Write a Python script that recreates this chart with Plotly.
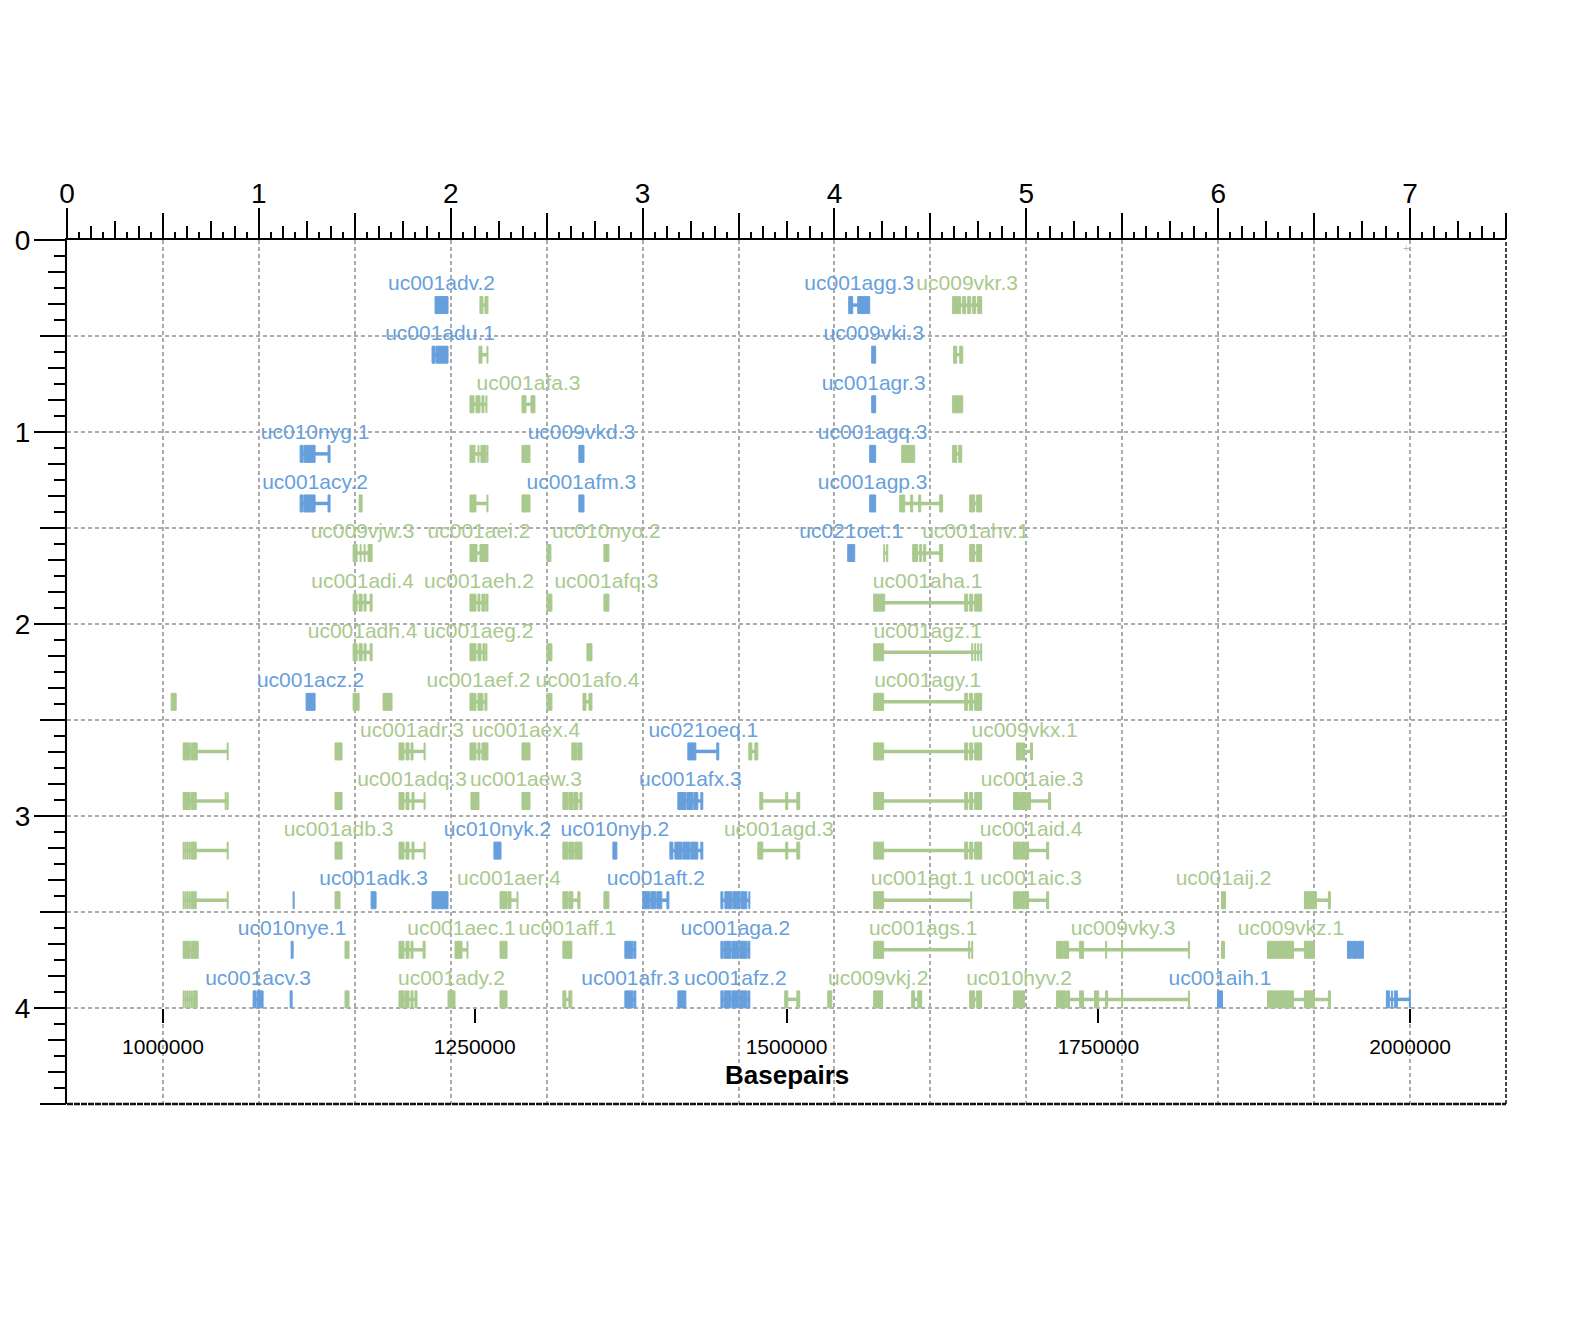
import plotly.graph_objects as go

# ---------------- data ----------------
transcript_ids = [
    # row 0
    "uc001adv.2", "", "uc001agg.3", "uc009vkr.3",
    # row 1
    "uc001adu.1", "", "uc009vki.3", "",
    # row 2
    "", "uc001afa.3", "uc001agr.3", "",
    # row 3
    "uc010nyg.1", "", "", "uc009vkd.3", "uc001agq.3", "", "",
    # row 4
    "uc001acy.2", "", "", "", "uc001afm.3", "uc001agp.3", "", "",
    # row 5
    "uc009vjw.3", "uc001aei.2", "", "uc010nyo.2", "uc021oet.1", "", "", "uc001ahv.1",
    # row 6
    "uc001adi.4", "uc001aeh.2", "", "uc001afq.3", "uc001aha.1",
    # row 7
    "uc001adh.4", "uc001aeg.2", "", "", "uc001agz.1",
    # row 8
    "", "uc001acz.2", "", "", "uc001aef.2", "", "uc001afo.4", "uc001agy.1",
    # row 9
    "", "", "uc001adr.3", "", "uc001aex.4", "", "uc021oeq.1", "", "", "uc009vkx.1",
    # row 10
    "", "", "uc001adq.3", "", "uc001aew.3", "", "uc001afx.3", "", "", "uc001aie.3",
    # row 11
    "", "uc001adb.3", "", "uc010nyk.2", "", "uc010nyp.2", "", "uc001agd.3", "", "uc001aid.4",
    # row 12
    "", "", "", "uc001adk.3", "", "uc001aer.4", "", "", "uc001aft.2", "", "uc001agt.1",
    "uc001aic.3", "uc001aij.2", "",
    # row 13
    "", "uc010nye.1", "", "", "uc001aec.1", "", "uc001aff.1", "", "uc001aga.2", "uc001ags.1",
    "uc009vky.3", "", "uc009vkz.1", "",
    # row 14
    "", "uc001acv.3", "", "", "", "uc001ady.2", "", "", "uc001afr.3", "", "uc001afz.2", "", "",
    "uc009vkj.2", "", "", "uc010hyv.2", "", "uc001aih.1", "", "",
]

transcript_rows = (
    [0] * 4 + [1] * 4 + [2] * 4 + [3] * 7 + [4] * 8 + [5] * 8 + [6] * 5 + [7] * 5 +
    [8] * 8 + [9] * 10 + [10] * 10 + [11] * 10 + [12] * 14 + [13] * 14 + [14] * 21
)

transcript_group = (
    list("bgbg") + list("bgbg") + list("ggbg") + list("bggbbgg") + list("bgggbbgg") +
    list("ggggbggg") + list("ggggg") + list("ggggg") + list("gbgggggg") +
    list("ggggggbggg") + list("ggggggbggg") + list("gggbgbbggg") +
    list("gbgbbgggbbgggg") + list("gbgggggbbggggb") + list("gbbgggggbbbgggggggbgb")
)

# exon coordinates in kilobases
transcript_exons_kb = [
    # row 0
    [[1218.2, 1228.6]],
    [[1254.2, 1256.6], [1258.2, 1260.6]],
    [[1549.9, 1553.1], [1557.1, 1566.7]],
    [[1633.2, 1639.7], [1641.3, 1643.7], [1645.3, 1647.7], [1649.3, 1651.7], [1653.3, 1656.5]],
    # row 1
    [[1215.8, 1218.2], [1219.0, 1228.6]],
    [[1253.4, 1255.8], [1259.8, 1260.6]],
    [[1568.3, 1571.5]],
    [[1634.0, 1636.5], [1638.9, 1641.3]],
    # row 2
    [[1246.2, 1249.4], [1251.0, 1254.2], [1255.8, 1257.4], [1259.0, 1259.8]],
    [[1287.9, 1291.1], [1295.1, 1298.3]],
    [[1568.3, 1571.5]],
    [[1633.2, 1641.3]],
    # row 3
    [[1110.0, 1112.4], [1113.2, 1122.0], [1132.4, 1134.0]],
    [[1246.2, 1250.2], [1252.6, 1253.4], [1255.0, 1259.0], [1259.8, 1260.6]],
    [[1287.9, 1294.3]],
    [[1333.5, 1337.6]],
    [[1566.7, 1571.5]],
    [[1592.4, 1602.8]],
    [[1633.2, 1636.5], [1638.1, 1640.5]],
    # row 4
    [[1110.0, 1112.4], [1113.2, 1122.0], [1132.4, 1134.0]],
    [[1157.3, 1159.7]],
    [[1246.2, 1251.0], [1259.8, 1260.6]],
    [[1287.9, 1294.3]],
    [[1333.5, 1337.6]],
    [[1566.7, 1571.5]],
    [[1590.8, 1594.8], [1599.6, 1601.2], [1606.0, 1607.6], [1622.8, 1625.2]],
    [[1646.9, 1650.9], [1652.5, 1656.5]],
    # row 5
    [[1152.5, 1155.7], [1158.1, 1158.9], [1161.3, 1162.1], [1164.5, 1167.7]],
    [[1246.2, 1251.8], [1254.2, 1260.6]],
    [[1307.9, 1311.1]],
    [[1353.6, 1357.6]],
    [[1549.1, 1554.7]],
    [[1578.0, 1578.7], [1580.3, 1581.2]],
    [[1601.2, 1605.2], [1606.8, 1608.4], [1610.0, 1611.6], [1622.8, 1625.2]],
    [[1646.9, 1650.9], [1652.5, 1656.5]],
    # row 6
    [[1152.5, 1155.7], [1157.3, 1159.7], [1161.3, 1162.9], [1166.1, 1167.7]],
    [[1246.2, 1251.0], [1252.6, 1254.2], [1255.8, 1258.2], [1259.0, 1260.6]],
    [[1307.9, 1311.9]],
    [[1353.6, 1357.6]],
    [[1569.9, 1578.7], [1642.9, 1645.3], [1646.9, 1649.3], [1650.9, 1656.5]],
    # row 7
    [[1152.5, 1155.7], [1157.3, 1159.7], [1161.3, 1162.9], [1166.1, 1167.7]],
    [[1246.2, 1251.0], [1252.6, 1255.0], [1256.6, 1258.2], [1259.0, 1259.8]],
    [[1307.9, 1311.9]],
    [[1340.0, 1344.0]],
    [[1569.9, 1577.9], [1648.5, 1649.3], [1650.9, 1651.7], [1653.3, 1654.1], [1655.7, 1656.5]],
    # row 8
    [[1006.6, 1010.6]],
    [[1114.8, 1122.0]],
    [[1152.5, 1157.3]],
    [[1176.5, 1183.7]],
    [[1246.2, 1251.0], [1252.6, 1256.6], [1258.2, 1259.8]],
    [[1307.9, 1311.9]],
    [[1336.8, 1339.2], [1341.6, 1344.0]],
    [[1569.9, 1577.9], [1642.9, 1645.3], [1646.9, 1649.3], [1650.9, 1656.5]],
    # row 9
    [[1016.2, 1021.8], [1022.6, 1027.5], [1051.5, 1052.3]],
    [[1138.0, 1143.6]],
    [[1189.3, 1193.3], [1194.9, 1197.3], [1198.9, 1200.5], [1209.4, 1210.2]],
    [[1246.2, 1251.0], [1252.6, 1254.2], [1255.8, 1260.6]],
    [[1287.9, 1294.3]],
    [[1327.9, 1331.9], [1332.7, 1336.0]],
    [[1420.9, 1427.3], [1444.1, 1445.7]],
    [[1469.8, 1472.2], [1474.6, 1477.0]],
    [[1569.9, 1577.9], [1642.9, 1645.3], [1646.9, 1649.3], [1650.9, 1656.5]],
    [[1684.5, 1688.5], [1689.3, 1690.9], [1695.7, 1697.3]],
    # row 10
    [[1016.2, 1021.8], [1022.6, 1026.7], [1049.9, 1050.7], [1051.5, 1052.3]],
    [[1138.0, 1143.6]],
    [[1189.3, 1193.3], [1194.9, 1197.3], [1199.7, 1201.3], [1209.4, 1210.2]],
    [[1247.0, 1253.4]],
    [[1287.9, 1294.3]],
    [[1320.7, 1324.7], [1325.5, 1328.7], [1329.5, 1332.7], [1334.4, 1336.0]],
    [[1412.9, 1419.3], [1420.1, 1424.9], [1425.7, 1428.9], [1431.3, 1432.9]],
    [[1478.6, 1481.0], [1499.4, 1501.0], [1508.3, 1510.6]],
    [[1569.9, 1577.9], [1642.9, 1645.3], [1646.9, 1649.3], [1650.9, 1656.5]],
    [[1682.1, 1686.9], [1687.7, 1692.5], [1693.3, 1695.7], [1710.2, 1711.8]],
    # row 11
    [[1016.2, 1017.0], [1017.8, 1018.6], [1019.4, 1020.2], [1021.0, 1021.8], [1022.6, 1026.7], [1051.5, 1052.3]],
    [[1138.0, 1143.6]],
    [[1189.3, 1193.3], [1194.9, 1197.3], [1199.7, 1201.3], [1209.4, 1210.2]],
    [[1265.4, 1271.1]],
    [[1320.7, 1324.7], [1325.5, 1329.5], [1330.3, 1336.0]],
    [[1360.8, 1364.0]],
    [[1406.5, 1408.9], [1410.5, 1416.1], [1416.9, 1422.5], [1423.3, 1428.9], [1431.3, 1432.9]],
    [[1477.0, 1481.0], [1499.4, 1501.0], [1508.3, 1510.6]],
    [[1569.9, 1577.9], [1642.9, 1645.3], [1646.9, 1649.3], [1650.9, 1656.5]],
    [[1682.1, 1687.7], [1688.5, 1690.9], [1691.7, 1694.1], [1708.6, 1710.2]],
    # row 12
    [[1016.2, 1017.0], [1017.8, 1018.6], [1019.4, 1020.2], [1021.0, 1021.8], [1022.6, 1026.7], [1051.5, 1052.3]],
    [[1104.4, 1105.2]],
    [[1138.0, 1142.0]],
    [[1166.9, 1170.9]],
    [[1215.8, 1228.6]],
    [[1270.3, 1275.9], [1276.7, 1279.1], [1283.9, 1284.7]],
    [[1320.7, 1324.7], [1325.5, 1328.7], [1332.7, 1334.4]],
    [[1353.6, 1357.6]],
    [[1384.8, 1390.4], [1391.2, 1395.2], [1396.0, 1400.0], [1404.1, 1405.7]],
    [[1447.4, 1449.0], [1450.6, 1456.2], [1457.0, 1462.6], [1463.4, 1468.2], [1469.8, 1470.6]],
    [[1569.9, 1577.9], [1647.7, 1648.5]],
    [[1682.1, 1687.7], [1688.5, 1690.9], [1691.7, 1694.1], [1708.6, 1710.2]],
    [[1848.8, 1852.0]],
    [[1915.3, 1924.9], [1934.5, 1936.1]],
    # row 13
    [[1016.2, 1021.8], [1022.6, 1028.3]],
    [[1102.8, 1104.4]],
    [[1146.0, 1149.2]],
    [[1189.3, 1193.3], [1194.9, 1197.3], [1198.9, 1200.5], [1208.6, 1210.2]],
    [[1234.2, 1239.8], [1243.8, 1244.6]],
    [[1270.3, 1275.9]],
    [[1320.7, 1327.9]],
    [[1370.4, 1376.8], [1377.6, 1379.2]],
    [[1447.4, 1449.0], [1449.8, 1455.4], [1456.2, 1461.8], [1462.6, 1468.2], [1469.0, 1470.6]],
    [[1569.9, 1577.9], [1646.1, 1646.9], [1648.5, 1649.3]],
    [[1716.6, 1721.4], [1722.2, 1726.2], [1735.0, 1738.2], [1755.9, 1756.7], [1768.7, 1769.5], [1822.3, 1823.1]],
    [[1848.8, 1851.2]],
    [[1885.7, 1892.9], [1893.7, 1906.5], [1915.3, 1923.3]],
    [[1949.8, 1953.0], [1953.8, 1957.8], [1958.6, 1962.6]],
    # row 14
    [[1016.2, 1017.0], [1017.8, 1018.6], [1019.4, 1020.2], [1021.0, 1021.8], [1022.6, 1023.5], [1024.3, 1027.5]],
    [[1072.3, 1074.7], [1075.5, 1080.3]],
    [[1102.0, 1103.6]],
    [[1146.0, 1149.2]],
    [[1189.3, 1193.3], [1194.1, 1197.3], [1198.9, 1200.5], [1202.1, 1203.7]],
    [[1228.6, 1234.2]],
    [[1270.3, 1275.9]],
    [[1320.7, 1323.1], [1325.5, 1327.9]],
    [[1370.4, 1376.8], [1377.6, 1379.2]],
    [[1412.9, 1419.3]],
    [[1447.4, 1449.0], [1449.8, 1455.4], [1456.2, 1461.8], [1462.6, 1468.2], [1469.0, 1470.6]],
    [[1498.6, 1501.0], [1508.3, 1510.6]],
    [[1533.1, 1536.3]],
    [[1569.9, 1577.1]],
    [[1600.4, 1602.8], [1605.2, 1608.4]],
    [[1646.9, 1650.9], [1652.5, 1656.5]],
    [[1682.1, 1690.9]],
    [[1716.6, 1723.8], [1724.6, 1727.0], [1735.0, 1738.2], [1747.0, 1750.3], [1755.9, 1757.5], [1768.7, 1769.5], [1822.3, 1823.1]],
    [[1845.6, 1849.6]],
    [[1885.7, 1892.9], [1893.7, 1906.5], [1915.3, 1923.3], [1934.5, 1936.1]],
    [[1981.0, 1983.4], [1985.0, 1985.8], [1987.4, 1989.8], [1999.4, 2000.2]],
]

bp_ticks = [1000000, 1250000, 1500000, 1750000, 2000000]
bp_range = [923077, 2076923]
top_range = [0, 7.5]
left_range = [4.5, 0]

# ---------------- styling ----------------
FONT = "Liberation Sans, Arial, sans-serif"
BLUE = "#679fdc"
GREEN = "#a9c98e"
GRID = "#ababab"
ROW0, ROWSTEP = 0.339, 0.2583
EXON_H = 0.0886
LABEL_OFF = 0.104

fig = go.Figure()
colors = {"g": GREEN, "b": BLUE}
intr, exons, labels = {}, {}, {}
for grp in ("g", "b"):
    intr[grp] = ([], [])
    exons[grp] = ([], [], [])
    labels[grp] = ([], [], [])

for tid, row, grp, ex in zip(transcript_ids, transcript_rows, transcript_group, transcript_exons_kb):
    y = ROW0 + ROWSTEP * row
    s = min(a for a, b in ex) * 1000
    e = max(b for a, b in ex) * 1000
    if len(ex) > 1:
        intr[grp][0].extend([s, e, None])
        intr[grp][1].extend([y, y, None])
    for a, b in ex:
        exons[grp][0].append((b - a) * 1000)
        exons[grp][1].append(a * 1000)
        exons[grp][2].append(y)
    if tid:
        labels[grp][0].append((s + e) / 2)
        labels[grp][1].append(y - LABEL_OFF)
        labels[grp][2].append(tid)

for grp in ("g", "b"):
    fig.add_trace(go.Scatter(x=intr[grp][0], y=intr[grp][1], mode="lines",
                             line=dict(color=colors[grp], width=3.5),
                             hoverinfo="skip", showlegend=False))
for grp in ("g", "b"):
    n = len(exons[grp][0])
    fig.add_trace(go.Bar(x=exons[grp][0], base=exons[grp][1], y=exons[grp][2],
                         orientation="h", width=[EXON_H] * n,
                         marker=dict(color=colors[grp], line=dict(color=colors[grp], width=1)),
                         hoverinfo="skip", showlegend=False))
for grp in ("g", "b"):
    fig.add_trace(go.Scatter(x=labels[grp][0], y=labels[grp][1], mode="text",
                             text=labels[grp][2],
                             textfont=dict(color=colors[grp], size=21, family=FONT),
                             cliponaxis=False, hoverinfo="skip", showlegend=False))

# dummy traces to activate ruler overlay axes
for xa in ("x3", "x4", "x5"):
    fig.add_trace(go.Scatter(x=[None], y=[None], xaxis=xa, yaxis="y", showlegend=False))
for ya in ("y2", "y3"):
    fig.add_trace(go.Scatter(x=[None], y=[None], xaxis="x", yaxis=ya, showlegend=False))

grid_common = dict(gridcolor=GRID, griddash="4px,3px", gridwidth=1.5)


def ruler_x(dtick, length, width=1.5):
    return dict(overlaying="x", side="top", anchor="y", range=top_range,
                tickmode="linear", tick0=0, dtick=dtick, ticks="outside",
                ticklen=length, tickwidth=width, tickcolor="black",
                showticklabels=False, showgrid=False, zeroline=False, showline=False)


def ruler_y(dtick, length, width=1.5):
    return dict(overlaying="y", side="left", anchor="x", range=left_range,
                tickmode="linear", tick0=0, dtick=dtick, ticks="outside",
                ticklen=length, tickwidth=width, tickcolor="black",
                showticklabels=False, showgrid=False, zeroline=False, showline=False)


fig.update_layout(
    width=1574, height=1344,
    margin=dict(l=67, r=68, t=240, b=240),
    paper_bgcolor="white", plot_bgcolor="white",
    barmode="overlay", hovermode=False,
    font=dict(family=FONT, color="black"),
    xaxis=dict(range=bp_range, anchor="free", position=0.5 / 4.5,
               showgrid=False, zeroline=False, showline=False,
               tickmode="array", tickvals=bp_ticks, ticktext=[str(v) for v in bp_ticks],
               ticks="outside", ticklen=14, tickwidth=2, tickcolor="black",
               tickfont=dict(size=21, family=FONT), ticklabelstandoff=6),
    xaxis2=dict(overlaying="x", side="top", anchor="y", range=top_range,
                tickmode="linear", tick0=0, dtick=1, ticks="outside", ticklen=30,
                tickwidth=2, tickcolor="black", showline=True, linewidth=2,
                linecolor="black", tickfont=dict(size=28, family=FONT),
                ticklabelstandoff=-6,
                showgrid=True, zeroline=False, **grid_common,
                minor=dict(dtick=0.5, ticklen=25, tickwidth=2, tickcolor="black",
                           ticks="outside", showgrid=True, **grid_common)),
    xaxis3=ruler_x(0.25, 18),
    xaxis4=ruler_x(0.125, 13),
    xaxis5=ruler_x(0.0625, 7),
    yaxis=dict(range=left_range, anchor="x", side="left",
               tickmode="linear", tick0=0, dtick=1, ticks="outside", ticklen=31,
               tickwidth=2, tickcolor="black", showline=True, linewidth=2,
               linecolor="black", tickfont=dict(size=28, family=FONT),
               ticklabelstandoff=-2,
               showgrid=True, zeroline=False, **grid_common,
               minor=dict(dtick=0.5, ticklen=25, tickwidth=2, tickcolor="black",
                          ticks="outside", showgrid=True, **grid_common)),
    yaxis2=ruler_y(1 / 6, 18),
    yaxis3=ruler_y(1 / 12, 12),
    shapes=[
        dict(type="line", xref="paper", yref="paper", x0=1, x1=1, y0=0, y1=1,
             line=dict(color="#444444", width=2, dash="4px,2px")),
        dict(type="line", xref="paper", yref="paper", x0=0, x1=1, y0=0, y1=0,
             line=dict(color="#111111", width=2.5, dash="6px,1px")),
    ],
    annotations=[
        dict(text="<b>Basepairs</b>", xref="paper", yref="paper", x=0.5, y=0.0335,
             xanchor="center", yanchor="middle", showarrow=False,
             font=dict(size=26, family=FONT, color="black")),
        dict(text="+", xref="x2", yref="y", x=6.98, y=0.04, showarrow=False,
             font=dict(size=11, family=FONT, color="#bbbbbb")),
    ],
)

fig.write_html("out.html")
